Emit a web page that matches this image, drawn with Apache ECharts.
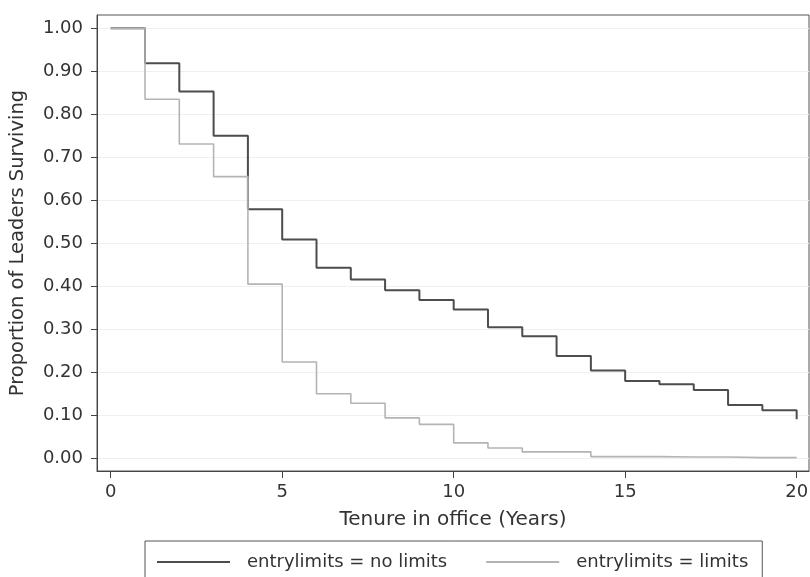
<!DOCTYPE html>
<html>
<head>
<meta charset="utf-8">
<script src="https://cdn.jsdelivr.net/npm/echarts@6/dist/echarts.min.js"></script>
<style>html,body{margin:0;padding:0;background:#fff;}#c{width:810px;height:577px;}</style>
</head>
<body>
<div id="c"></div>
<script>
const years = [0,1,2,3,4,5,6,7,8,9,10,11,12,13,14,15,16,17,18,19,20];
const noLimits = [1.000,0.919,0.853,0.750,0.579,0.509,0.443,0.416,0.391,0.368,0.346,0.305,0.284,0.238,0.204,0.180,0.172,0.159,0.124,0.112,0.091];
const limits = [1.000,0.835,0.731,0.655,0.405,0.224,0.150,0.128,0.094,0.079,0.036,0.024,0.015,0.015,0.004,0.004,0.003,0.003,0.0015,0.0015,0.001];
const xTicks = [0,5,10,15,20];
const yTicks = [0,0.1,0.2,0.3,0.4,0.5,0.6,0.7,0.8,0.9,1.0];
const seriesNames = ['entrylimits = no limits','entrylimits = limits'];

const font = 'DejaVu Sans';
const textColor = '#333333';
const chart = echarts.init(document.getElementById('c'), null, {renderer:'canvas'});
chart.setOption({
  backgroundColor: '#ffffff',
  animation: false,
  grid: {left: 97, top: 15, right: 1, bottom: 106, show: true, borderColor: '#555', borderWidth: 1,
         containLabel: false, outerBoundsMode: 'none'},
  xAxis: {
    type: 'value', min: -0.4, max: 20.36,
    name: 'Tenure in office (Years)', nameLocation: 'middle', nameGap: 39,
    nameTextStyle: {fontFamily: font, fontSize: 20, color: textColor},
    axisLine: {show: true, onZero: false, lineStyle: {color: '#444', width: 1}},
    axisTick: {show: true, customValues: xTicks, length: 7, lineStyle: {color: '#444'}},
    axisLabel: {customValues: xTicks, margin: 12, fontFamily: font, fontSize: 18, color: textColor},
    splitLine: {show: false}
  },
  yAxis: {
    type: 'value', min: -0.0295, max: 1.031,
    name: 'Proportion of Leaders Surviving', nameLocation: 'middle', nameGap: 69,
    nameTextStyle: {fontFamily: font, fontSize: 19.5, color: textColor},
    axisLine: {show: true, onZero: false, lineStyle: {color: '#444', width: 1}},
    axisTick: {show: true, customValues: yTicks, length: 6, lineStyle: {color: '#444'}},
    axisLabel: {customValues: yTicks, margin: 14, fontFamily: font, fontSize: 18, color: textColor,
      formatter: v => v.toFixed(2)},
    splitLine: {show: true, lineStyle: {color: '#f0f0f0', width: 1}}
  },
  legend: {
    left: 145, top: 541,
    data: seriesNames,
    orient: 'horizontal',
    itemWidth: 73, itemHeight: 14, itemGap: 39,
    padding: [12, 14, 20, 12],
    borderColor: '#555', borderWidth: 1,
    textStyle: {fontFamily: font, fontSize: 18, color: textColor, padding: [0,0,0,12]},
    icon: 'path://M0,6 L73,6 L73,8 L0,8 Z'
  },
  series: [
    {
      name: seriesNames[0], type: 'line', step: 'end', symbol: 'none', showSymbol: false,
      data: years.map((y,i)=>[y, noLimits[i]]),
      lineStyle: {color: '#4d4d4d', width: 2},
      itemStyle: {color: '#4d4d4d'}
    },
    {
      name: seriesNames[1], type: 'line', step: 'end', symbol: 'none', showSymbol: false,
      data: years.map((y,i)=>[y, limits[i]]),
      lineStyle: {color: '#b4b4b4', width: 1.6},
      itemStyle: {color: '#b4b4b4'}
    }
  ]
});
</script>
</body>
</html>
